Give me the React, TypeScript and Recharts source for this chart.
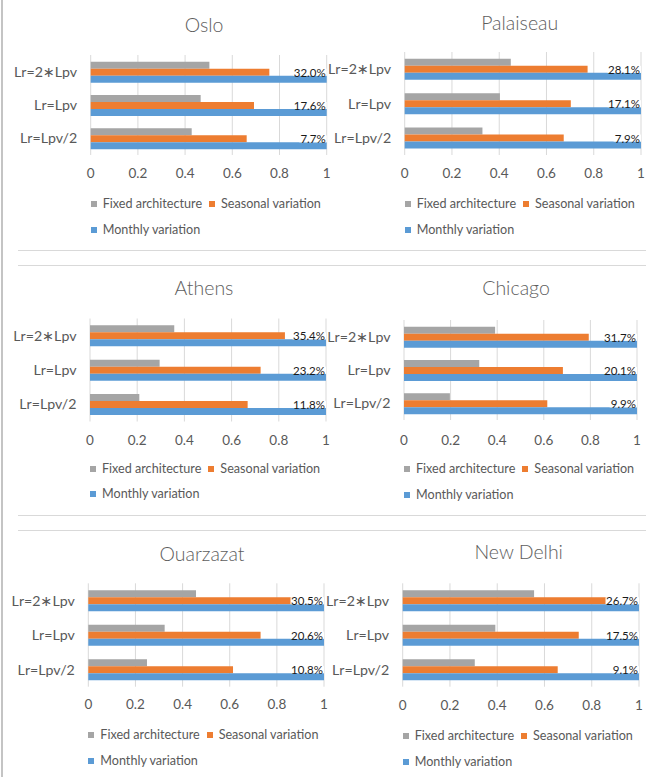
import React from "react";
import { BarChart, Bar, XAxis, YAxis, CartesianGrid, LabelList, Legend } from "recharts";

const CATEGORIES = ["Lr=2∗Lpv", "Lr=Lpv", "Lr=Lpv/2"];
const SERIES_NAMES = ["Fixed architecture", "Seasonal variation", "Monthly variation"];
const SERIES_KEYS = ["fixed", "seasonal", "monthly"];
const SERIES_COLORS = ["#A5A5A5", "#ED7D31", "#5B9BD5"];
const X_TICKS = [0, 0.2, 0.4, 0.6, 0.8, 1];

const OSLO_FIXED = [0.503, 0.466, 0.428];
const OSLO_SEASONAL = [0.757, 0.692, 0.661];
const OSLO_MONTHLY = [1, 1, 1];
const OSLO_LABELS = ["32.0%", "17.6%", "7.7%"];

const PALAISEAU_FIXED = [0.449, 0.403, 0.329];
const PALAISEAU_SEASONAL = [0.774, 0.703, 0.673];
const PALAISEAU_MONTHLY = [1, 1, 1];
const PALAISEAU_LABELS = ["28.1%", "17.1%", "7.9%"];

const ATHENS_FIXED = [0.357, 0.295, 0.209];
const ATHENS_SEASONAL = [0.826, 0.723, 0.668];
const ATHENS_MONTHLY = [1, 1, 1];
const ATHENS_LABELS = ["35.4%", "23.2%", "11.8%"];

const CHICAGO_FIXED = [0.391, 0.323, 0.197];
const CHICAGO_SEASONAL = [0.793, 0.682, 0.615];
const CHICAGO_MONTHLY = [1, 1, 1];
const CHICAGO_LABELS = ["31.7%", "20.1%", "9.9%"];

const OUARZAZAT_FIXED = [0.457, 0.324, 0.249];
const OUARZAZAT_SEASONAL = [0.87, 0.731, 0.614];
const OUARZAZAT_MONTHLY = [1, 1, 1];
const OUARZAZAT_LABELS = ["30.5%", "20.6%", "10.8%"];

const NEWDELHI_FIXED = [0.556, 0.392, 0.305];
const NEWDELHI_SEASONAL = [0.875, 0.745, 0.656];
const NEWDELHI_MONTHLY = [1, 1, 1];
const NEWDELHI_LABELS = ["26.7%", "17.5%", "9.1%"];

const build = (f: number[], s: number[], m: number[], l: string[]) =>
  CATEGORIES.map((c, i) => ({ cat: c, fixed: f[i], seasonal: s[i], monthly: m[i], label: l[i] }));

const FONT = "Lato, 'Noto Sans', 'DejaVu Sans', sans-serif";
const TEXT_COLOR = "#595959";

const PANELS = [
  { title: "Oslo", data: build(OSLO_FIXED, OSLO_SEASONAL, OSLO_MONTHLY, OSLO_LABELS),
    chartLeft: 6, chartTop: 0, chartBottom: 249, x0: 90.7, x1: 326.7, yTop: 55, yBot: 155, titleX: 204, titleY: 25, tickY: 173, legendY: 204 },
  { title: "Palaiseau", data: build(PALAISEAU_FIXED, PALAISEAU_SEASONAL, PALAISEAU_MONTHLY, PALAISEAU_LABELS),
    chartLeft: 318, chartTop: 0, chartBottom: 249, x0: 404.7, x1: 641, yTop: 52, yBot: 155, titleX: 519.7, titleY: 22.5, tickY: 173, legendY: 204 },
  { title: "Athens", data: build(ATHENS_FIXED, ATHENS_SEASONAL, ATHENS_MONTHLY, ATHENS_LABELS),
    chartLeft: 6, chartTop: 266, chartBottom: 514, x0: 90, x1: 326, yTop: 318.5, yBot: 421.5, titleX: 204, titleY: 288, tickY: 440, legendY: 468.5 },
  { title: "Chicago", data: build(CHICAGO_FIXED, CHICAGO_SEASONAL, CHICAGO_MONTHLY, CHICAGO_LABELS),
    chartLeft: 318, chartTop: 266, chartBottom: 514, x0: 404, x1: 637, yTop: 320, yBot: 420, titleX: 516, titleY: 288, tickY: 440, legendY: 469 },
  { title: "Ouarzazat", data: build(OUARZAZAT_FIXED, OUARZAZAT_SEASONAL, OUARZAZAT_MONTHLY, OUARZAZAT_LABELS),
    chartLeft: 6, chartTop: 532, chartBottom: 777, x0: 88.3, x1: 324, yTop: 583.3, yBot: 686.7, titleX: 202, titleY: 554, tickY: 704.5, legendY: 735 },
  { title: "New Delhi", data: build(NEWDELHI_FIXED, NEWDELHI_SEASONAL, NEWDELHI_MONTHLY, NEWDELHI_LABELS),
    chartLeft: 318, chartTop: 532, chartBottom: 777, x0: 402.7, x1: 639, yTop: 583.3, yBot: 686.7, titleX: 518.7, titleY: 552, tickY: 705.7, legendY: 736 },
];

const PctLabel = (props: any) => {
  const { x, y, width, height, value } = props;
  const fs = 11.5;
  const tw = String(value).length * 0.53 * fs;
  const right = x + width - 1;
  return (
    <g>
      <rect x={right - tw - 2} y={y - height} width={tw + 3} height={height} fill="#ffffff" />
      <text x={right} y={y + 1} textAnchor="end" fontSize={fs} fontFamily={FONT} fill="#1a1a1a">
        {value}
      </text>
    </g>
  );
};

const LegendContent = () => (
  <div
    style={{
      display: "flex",
      flexWrap: "wrap",
      width: 240,
      fontFamily: FONT,
      fontSize: 12.6,
      color: TEXT_COLOR,
      lineHeight: "25.5px",
    }}
  >
    {SERIES_NAMES.map((n, i) => (
      <span key={n} style={{ display: "inline-flex", alignItems: "center", marginRight: 7, whiteSpace: "nowrap" }}>
        <span style={{ display: "inline-block", width: 6, height: 6, background: SERIES_COLORS[i], marginRight: 6 }} />
        {n}
      </span>
    ))}
  </div>
);

const Panel = ({ p }: { p: any }) => {
  const width = p.x1 + 5 - p.chartLeft;
  const height = p.chartBottom - p.chartTop;
  const xAxisH = 30;
  const margin = { top: p.yTop - p.chartTop, right: 5, left: 0, bottom: p.chartBottom - p.yBot - xAxisH };
  const tickFs = 13.5;
  return (
    <>
      <div
        style={{
          position: "absolute",
          left: p.titleX,
          top: p.titleY,
          transform: "translate(-50%, -50%)",
          fontFamily: FONT,
          fontSize: 19.5,
          fontWeight: 300,
          color: "#5e5e5e",
          whiteSpace: "nowrap",
          lineHeight: 1,
        }}
      >
        {p.title}
      </div>
      <div style={{ position: "absolute", left: p.chartLeft, top: p.chartTop }}>
        <BarChart
          width={width}
          height={height}
          data={p.data}
          layout="vertical"
          margin={margin}
          barCategoryGap="20%"
          barGap={0}
        >
          <CartesianGrid horizontal={false} stroke="#d9d9d9" strokeWidth={1} />
          <XAxis
            type="number"
            domain={[0, 1]}
            ticks={X_TICKS}
            tickFormatter={(v: number) => String(v)}
            axisLine={false}
            tickLine={false}
            tickSize={0}
            tickMargin={p.tickY - p.yBot - 0.36 * tickFs}
            height={xAxisH}
            tick={{ fill: TEXT_COLOR, fontSize: tickFs, fontFamily: FONT }}
            interval={0}
          />
          <YAxis
            type="category"
            dataKey="cat"
            width={p.x0 - p.chartLeft}
            axisLine={false}
            tickLine={false}
            tickSize={0}
            tickMargin={13.5}
            tick={{ fill: TEXT_COLOR, fontSize: 14.2, fontFamily: FONT }}
          />
          <Legend
            layout="horizontal"
            verticalAlign="middle"
            align="center"
            wrapperStyle={{ left: p.x0 - p.chartLeft, top: p.legendY - p.chartTop - 12.75, width: 240 }}
            content={() => <LegendContent />}
          />
          {SERIES_KEYS.map((k, i) => (
            <Bar key={k} dataKey={k} name={SERIES_NAMES[i]} fill={SERIES_COLORS[i]} isAnimationActive={false}>
              {k === "monthly" ? <LabelList dataKey="label" content={PctLabel} /> : null}
            </Bar>
          ))}
        </BarChart>
      </div>
    </>
  );
};

export default function App() {
  const hLines = [249.5, 264.5, 514.5, 529.5];
  return (
    <div style={{ position: "absolute", left: 0, top: 0, width: 646, height: 777, background: "#fff", overflow: "hidden" }}>
      <div style={{ position: "absolute", left: 1, top: 0, width: 2, height: 777, background: "#c4c4c4" }} />
      {hLines.map((y) => (
        <div key={y} style={{ position: "absolute", left: 18, top: y, width: 628, height: 1.5, background: "#d9d9d9" }} />
      ))}
      {PANELS.map((p) => (
        <Panel key={p.title} p={p} />
      ))}
    </div>
  );
}
